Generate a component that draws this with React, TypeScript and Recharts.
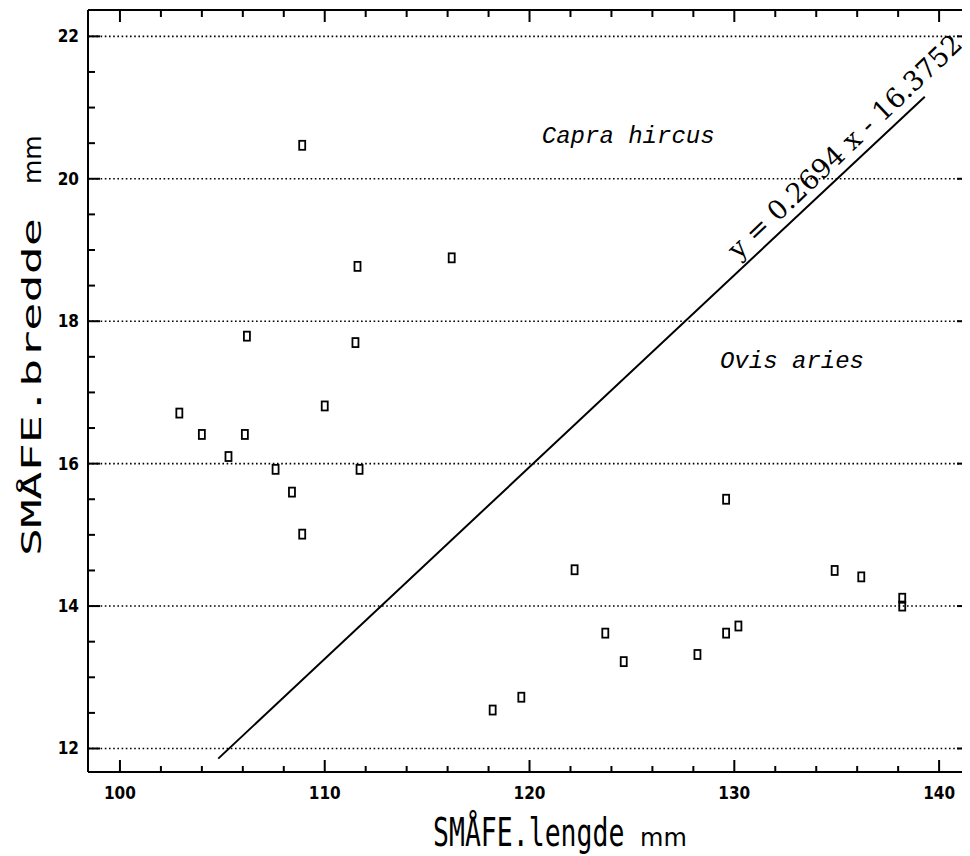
import React from 'react';
import { ScatterChart, Scatter, XAxis, YAxis, ReferenceLine, Label } from 'recharts';

// Capra hircus (goat) measurements: length (x) and breadth (y), mm
const goatLength = [108.9, 111.6, 116.2, 106.2, 111.5, 102.9, 110.0, 104.0, 106.1, 105.3, 107.6, 111.7, 108.4, 108.9];
const goatBreadth = [20.47, 18.77, 18.89, 17.79, 17.7, 16.71, 16.81, 16.41, 16.41, 16.1, 15.92, 15.92, 15.6, 15.01];

// Ovis aries (sheep) measurements
const sheepLength = [129.6, 122.2, 134.9, 136.2, 138.2, 138.2, 123.7, 130.2, 129.6, 124.6, 128.2, 119.6, 118.2];
const sheepBreadth = [15.5, 14.51, 14.5, 14.41, 14.11, 14.0, 13.62, 13.72, 13.62, 13.22, 13.32, 12.72, 12.54];

// Discriminant line y = 0.2694 x - 16.3752
const lineSlope = 0.2694;
const lineIntercept = -16.3752;
const lineStartX = 104.8;
const lineEndX = 139.3;
const equationText = 'y = 0.2694 x - 16.3752';

// Axes
const xDomain = [98.44, 141.46];
const yDomain = [11.67, 22.37];
const xTicks = [100, 110, 120, 130, 140];
const xMinorTicks = [100, 102, 104, 106, 108, 110, 112, 114, 116, 118, 120, 122, 124, 126, 128, 130, 132, 134, 136, 138, 140];
const yTicks = [12, 14, 16, 18, 20, 22];
const yMinorTicks = [12, 12.5, 13, 13.5, 14, 14.5, 15, 15.5, 16, 16.5, 17, 17.5, 18, 18.5, 19, 19.5, 20, 20.5, 21, 21.5, 22];
const xTitle = 'SMÅFE.lengde';
const yTitle = 'SMÅFE.bredde';
const unitText = 'mm';
const goatLabel = 'Capra hircus';
const sheepLabel = 'Ovis aries';

const goatData = goatLength.map((x, i) => ({ x, y: goatBreadth[i] }));
const sheepData = sheepLength.map((x, i) => ({ x, y: sheepBreadth[i] }));

// anchor positions of annotations (data coordinates)
const goatLabelAt = [{ x: 120.6, y: 20.5 }];
const sheepLabelAt = [{ x: 129.3, y: 17.34 }];
const equationAt = [{ x: 135.7, y: 20.36 }];

const labelFont = '"Liberation Sans Narrow", "DejaVu Sans Condensed", "Liberation Serif", serif';
const isMajorX = (v: number) => xTicks.includes(v);
const isMajorY = (v: number) => yTicks.includes(v);

const BottomTick = (p: any) => {
  const v = p.payload.value;
  const major = isMajorX(v);
  return (
    <g>
      <line x1={p.x} x2={p.x} y1={p.y} y2={p.y - (major ? 12 : 6)} stroke="#000" strokeWidth={2} />
      {major && (
        <text x={p.x} y={p.y + 27} textAnchor="middle" fontFamily={labelFont} fontSize={17} fontWeight="bold" fill="#000">
          {v}
        </text>
      )}
    </g>
  );
};

const TopTick = (p: any) => {
  const major = isMajorX(p.payload.value);
  return <line x1={p.x} x2={p.x} y1={p.y} y2={p.y + (major ? 12 : 7)} stroke="#000" strokeWidth={2} />;
};

const LeftTick = (p: any) => {
  const v = p.payload.value;
  const major = isMajorY(v);
  return (
    <g>
      <line x1={p.x} x2={p.x + (major ? 12 : 7)} y1={p.y} y2={p.y} stroke="#000" strokeWidth={2} />
      {major && (
        <text x={p.x - 9} y={p.y + 6} textAnchor="end" fontFamily={labelFont} fontSize={17} fontWeight="bold" fill="#000">
          {v}
        </text>
      )}
    </g>
  );
};

const RightTick = (p: any) => {
  const major = isMajorY(p.payload.value);
  return <line x1={p.x} x2={p.x - (major ? 12 : 7)} y1={p.y} y2={p.y} stroke="#000" strokeWidth={2} />;
};

const BoxMark = (p: any) => (
  <rect x={p.cx - 3} y={p.cy - 4.5} width={6} height={9} fill="none" stroke="#000" strokeWidth={1.8} />
);

const NoMark = () => <g />;

const SpeciesText = (text: string) => (p: any) => (
  <text
    x={p.cx}
    y={p.cy}
    fontFamily='"Liberation Mono", "DejaVu Sans Mono", monospace'
    fontStyle="italic"
    fontSize={24}
    fill="#000"
  >
    {text}
  </text>
);

const EquationText = (p: any) => (
  <text
    x={0}
    y={0}
    transform={`translate(${p.cx},${p.cy}) rotate(-43.5)`}
    textAnchor="middle"
    fontFamily='"DejaVu Serif", "Liberation Serif", serif'
    fontSize={27}
    fill="#000"
  >
    {equationText}
  </text>
);

const XTitle = (props: any) => {
  const vb = props.viewBox || {};
  const x0 = vb.x + 345;
  const base = vb.y + 74;
  return (
    <g>
      <text
        transform={`translate(${x0},${base}) scale(1,1.45)`}
        fontFamily='"DejaVu Sans Mono", monospace'
        fontSize={26.5}
        fill="#000"
      >
        {xTitle}
      </text>
      <text x={vb.x + 552} y={base} fontFamily='"DejaVu Sans", sans-serif' fontSize={24} fill="#000">
        {unitText}
      </text>
    </g>
  );
};

const YTitle = (props: any) => {
  const vb = props.viewBox || {};
  const bx = vb.x + 33;
  return (
    <g>
      <text
        transform={`translate(${bx},${548}) rotate(-90) scale(1.8,1)`}
        fontFamily='"DejaVu Sans Mono", monospace'
        fontSize={26}
        fill="#000"
      >
        {yTitle}
      </text>
      <text
        transform={`translate(${bx},${176}) rotate(-90)`}
        fontFamily='"DejaVu Sans", sans-serif'
        fontSize={25}
        fill="#000"
      >
        {unitText}
      </text>
    </g>
  );
};

const frameLine = { stroke: '#000', strokeWidth: 2 };

export default function App() {
  return (
    <ScatterChart width={962} height={848} margin={{ top: 0, right: 0, bottom: 0, left: 0 }}>
      {yTicks.map((v) => (
        <ReferenceLine key={`g${v}`} y={v} stroke="#000" strokeWidth={1.6} strokeDasharray="1.6 2.6" />
      ))}
      <XAxis
        dataKey="x"
        type="number"
        domain={xDomain}
        ticks={xMinorTicks}
        allowDataOverflow
        interval={0}
        height={84}
        tickLine={false}
        tickSize={0}
        tickMargin={0}
        axisLine={frameLine}
        tick={BottomTick}
      >
        <Label content={XTitle} />
      </XAxis>
      <XAxis
        xAxisId="top"
        orientation="top"
        dataKey="x"
        type="number"
        domain={xDomain}
        ticks={xMinorTicks}
        allowDataOverflow
        interval={0}
        height={2}
        tickLine={false}
        tickSize={0}
        tickMargin={0}
        axisLine={frameLine}
        tick={TopTick}
      />
      <YAxis
        dataKey="y"
        type="number"
        domain={yDomain}
        ticks={yMinorTicks}
        allowDataOverflow
        interval={0}
        width={80}
        tickLine={false}
        tickSize={0}
        tickMargin={0}
        axisLine={frameLine}
        tick={LeftTick}
      >
        <Label content={YTitle} />
      </YAxis>
      <YAxis
        yAxisId="right"
        orientation="right"
        dataKey="y"
        type="number"
        domain={yDomain}
        ticks={yMinorTicks}
        allowDataOverflow
        interval={0}
        width={1}
        tickLine={false}
        tickSize={0}
        tickMargin={0}
        axisLine={frameLine}
        tick={RightTick}
      />
      <ReferenceLine
        segment={[
          { x: lineStartX, y: lineSlope * lineStartX + lineIntercept },
          { x: lineEndX, y: lineSlope * lineEndX + lineIntercept },
        ]}
        stroke="#000"
        strokeWidth={2}
        ifOverflow="visible"
      />
      <Scatter xAxisId="top" yAxisId="right" data={goatData} shape={NoMark} isAnimationActive={false} />
      <Scatter data={goatData} shape={BoxMark} isAnimationActive={false} />
      <Scatter data={sheepData} shape={BoxMark} isAnimationActive={false} />
      <Scatter data={goatLabelAt} shape={SpeciesText(goatLabel)} isAnimationActive={false} />
      <Scatter data={sheepLabelAt} shape={SpeciesText(sheepLabel)} isAnimationActive={false} />
      <Scatter data={equationAt} shape={EquationText} isAnimationActive={false} />
    </ScatterChart>
  );
}
